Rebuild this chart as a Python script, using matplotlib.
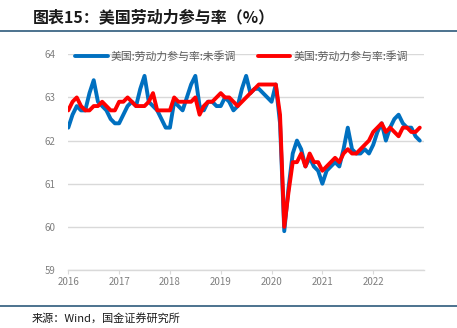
import matplotlib
matplotlib.use("Agg")
import matplotlib.pyplot as plt

plt.rcParams['font.family'] = ['Noto Sans CJK SC', 'DejaVu Sans']

# ======================
# DATA (monthly, Jan 2016 - Dec 2022)
# ======================
years = ["2016", "2017", "2018", "2019", "2020", "2021", "2022"]

nsa = [
    62.3, 62.6, 62.8, 62.7, 62.7, 63.1, 63.4, 62.9, 62.8, 62.7, 62.5, 62.4,   # 2016
    62.4, 62.6, 62.8, 62.9, 62.8, 63.2, 63.5, 62.9, 62.8, 62.7, 62.5, 62.3,   # 2017
    62.3, 62.9, 62.8, 62.7, 63.0, 63.3, 63.5, 62.8, 62.7, 62.9, 62.9, 62.8,   # 2018
    62.8, 63.0, 62.9, 62.7, 62.8, 63.2, 63.5, 63.1, 63.2, 63.2, 63.1, 63.0,   # 2019
    62.9, 63.3, 62.4, 59.9, 60.9, 61.7, 62.0, 61.8, 61.4, 61.6, 61.4, 61.3,   # 2020
    61.0, 61.3, 61.4, 61.5, 61.4, 61.8, 62.3, 61.8, 61.7, 61.7, 61.8, 61.7,   # 2021
    61.9, 62.2, 62.4, 62.0, 62.3, 62.5, 62.6, 62.4, 62.3, 62.3, 62.1, 62.0,   # 2022
]

sa = [
    62.7, 62.9, 63.0, 62.8, 62.7, 62.7, 62.8, 62.8, 62.9, 62.8, 62.7, 62.7,   # 2016
    62.9, 62.9, 63.0, 62.9, 62.8, 62.8, 62.8, 62.9, 63.1, 62.7, 62.7, 62.7,   # 2017
    62.7, 63.0, 62.9, 62.9, 62.9, 62.9, 63.0, 62.6, 62.8, 62.9, 62.9, 63.0,   # 2018
    63.1, 63.0, 63.0, 62.9, 62.8, 62.9, 63.0, 63.1, 63.2, 63.3, 63.3, 63.3,   # 2019
    63.3, 63.3, 62.6, 60.0, 60.8, 61.5, 61.5, 61.7, 61.4, 61.7, 61.5, 61.5,   # 2020
    61.3, 61.4, 61.5, 61.6, 61.5, 61.7, 61.8, 61.7, 61.7, 61.8, 61.9, 62.0,   # 2021
    62.2, 62.3, 62.4, 62.2, 62.3, 62.2, 62.1, 62.3, 62.3, 62.2, 62.2, 62.3,   # 2022
]

x = list(range(len(nsa)))
year_pos = [12 * i for i in range(len(years))]

# ======================
# FIGURE
# ======================
W, H = 457, 328
fig = plt.figure(figsize=(W / 100, H / 100), dpi=100)
ax = fig.add_axes([68.3 / W, 1 - 270 / H, (424 - 68.3) / W, (270 - 54.3) / H])

ax.plot(x, nsa, color="#0070C0", linewidth=2.8, solid_joinstyle="round",
        solid_capstyle="round", label="美国:劳动力参与率:未季调", zorder=3)
ax.plot(x, sa, color="#FF0000", linewidth=2.8, solid_joinstyle="round",
        solid_capstyle="round", label="美国:劳动力参与率:季调", zorder=4)

ax.set_ylim(59, 64)
ax.set_xlim(0, 84)
ax.set_yticks([59, 60, 61, 62, 63, 64])
ax.set_xticks(year_pos)
ax.set_xticklabels(years)

ax.grid(axis="y", color="#D9D9D9", linewidth=1.0)
ax.set_axisbelow(True)
for s in ["left", "right", "top"]:
    ax.spines[s].set_visible(False)
ax.spines["bottom"].set_color("#D9D9D9")
ax.spines["bottom"].set_linewidth(1.0)
ax.tick_params(axis="y", length=0, labelsize=7, labelcolor="#7F7F7F", pad=9)
ax.tick_params(axis="x", length=3, color="#D9D9D9", labelsize=7,
               labelcolor="#7F7F7F", pad=2)

leg = ax.legend(loc="upper left", bbox_to_anchor=((75 - 68.3) / 355.7, 1.015),
                ncol=2, frameon=False, fontsize=7.8, handlelength=3.0,
                handletextpad=0.3, columnspacing=2.0, borderpad=0,
                borderaxespad=0)
for t in leg.get_texts():
    t.set_color("#595959")

# ======================
# TITLE / SOURCE
# ======================
fig.text(33 / W, 1 - 17 / H, "图表15：美国劳动力参与率（%）", fontsize=11.5,
         fontweight="bold", color="#1A1A1A", va="center", ha="left")
fig.add_artist(plt.Line2D([0, 1], [1 - 31 / H, 1 - 31 / H], color="#2E5A7C",
                          linewidth=1.2, transform=fig.transFigure))
fig.add_artist(plt.Line2D([0, 1], [1 - 306 / H, 1 - 306 / H], color="#2E5A7C",
                          linewidth=1.2, transform=fig.transFigure))
fig.text(32 / W, 1 - 318 / H, "来源：Wind，国金证券研究所", fontsize=8,
         color="#1A1A1A", va="center", ha="left")

fig.savefig("out.png", dpi=100)
